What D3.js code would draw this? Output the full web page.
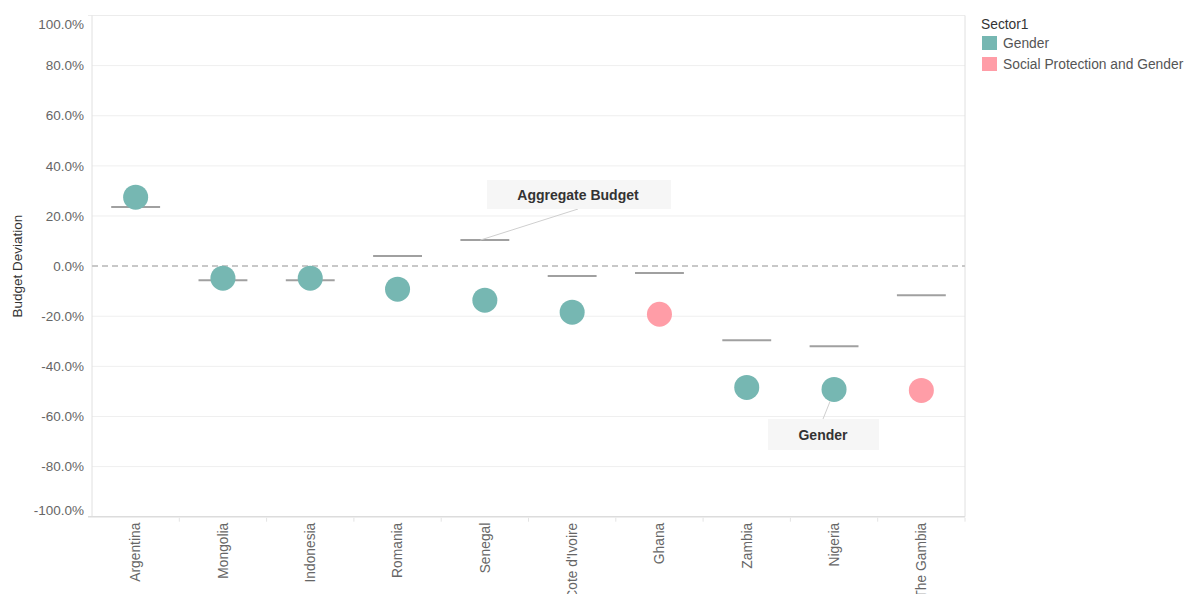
<!DOCTYPE html>
<html>
<head>
<meta charset="utf-8">
<script src="https://cdn.jsdelivr.net/npm/d3@7"></script>
<style>
  body { margin: 0; background: #fff; }
  text { font-family: "Liberation Sans", Arial, sans-serif; }
</style>
</head>
<body>
<div id="chart"></div>
<script>
// countries along the x axis
var countries = ["Argentina", "Mongolia", "Indonesia", "Romania", "Senegal",
                 "Cote d'Ivoire", "Ghana", "Zambia", "Nigeria", "The Gambia"];
// sector deviation (%) - the circles
var sectorDeviation = [27.5, -4.8, -4.8, -9.2, -13.6, -18.4, -19.2, -48.4, -49.2, -49.6];
// which sector each circle belongs to
var sectors = ["Gender", "Gender", "Gender", "Gender", "Gender",
               "Gender", "Social Protection and Gender", "Gender", "Gender", "Social Protection and Gender"];
// aggregate budget deviation (%) - the grey dashes
var aggregateDeviation = [23.6, -5.6, -5.6, 4.0, 10.4, -4.0, -2.8, -29.6, -32.0, -11.6];
var yTicks = [100, 80, 60, 40, 20, 0, -20, -40, -60, -80, -100];
var legendItems = ["Gender", "Social Protection and Gender"];

var W = 1184, H = 594;
var pLeft = 92, pRight = 965, pTop = 15.5, pBottom = 516.7;

var svg = d3.select("#chart").append("svg").attr("width", W).attr("height", H);

var x = d3.scaleBand().domain(countries).range([pLeft, pRight]);
var y = d3.scaleLinear().domain([-100, 100]).range([pBottom, pTop]);
var color = d3.scaleOrdinal().domain(legendItems).range(["#76b7b2", "#ff9da7"]);

// gridlines
svg.append("g").selectAll("line")
    .data(yTicks.filter(function (d) { return d !== 0 && Math.abs(d) !== 100; }))
    .enter().append("line")
    .attr("x1", pLeft).attr("x2", pRight)
    .attr("y1", function (d) { return y(d); }).attr("y2", function (d) { return y(d); })
    .attr("stroke", "#efefef").attr("stroke-width", 1);

// pane border
svg.append("line").attr("x1", pLeft - 4).attr("x2", pRight).attr("y1", pTop).attr("y2", pTop)
    .attr("stroke", "#ececec");
svg.append("line").attr("x1", pRight).attr("x2", pRight).attr("y1", pTop).attr("y2", pBottom)
    .attr("stroke", "#e0e0e0");
svg.append("line").attr("x1", pLeft).attr("x2", pLeft).attr("y1", pTop).attr("y2", pBottom)
    .attr("stroke", "#e0e0e0");
svg.append("line").attr("x1", pLeft - 4).attr("x2", pRight).attr("y1", pBottom).attr("y2", pBottom)
    .attr("stroke", "#dcdcdc").attr("stroke-width", 1.5);

// zero reference line
svg.append("line")
    .attr("x1", pLeft).attr("x2", pRight).attr("y1", y(0)).attr("y2", y(0))
    .attr("stroke", "#c8c8c8").attr("stroke-width", 2).attr("stroke-dasharray", "6,4");

// y axis labels
svg.append("g").selectAll("text")
    .data(yTicks).enter().append("text")
    .attr("x", pLeft - 8)
    .attr("y", function (d) {
        if (d === 100) return y(d) + 9;
        if (d === -100) return y(d) - 6;
        return y(d);
    })
    .attr("dy", "0.35em")
    .attr("text-anchor", "end")
    .attr("font-size", 13.5)
    .attr("fill", "#666")
    .text(function (d) { return d.toFixed(1) + "%"; });

svg.append("text")
    .attr("transform", "translate(22," + y(0) + ") rotate(-90)")
    .attr("text-anchor", "middle")
    .attr("font-size", 13.5)
    .attr("fill", "#333")
    .text("Budget Deviation");

// x ticks between categories
svg.append("g").selectAll("line")
    .data(countries).enter().append("line")
    .attr("x1", function (d) { return x(d) + x.bandwidth(); })
    .attr("x2", function (d) { return x(d) + x.bandwidth(); })
    .attr("y1", pBottom + 1).attr("y2", pBottom + 5)
    .attr("stroke", "#e4e4e4");

// x labels
svg.append("g").selectAll("text")
    .data(countries).enter().append("text")
    .attr("transform", function (d) {
        return "translate(" + (x(d) + x.bandwidth() / 2) + "," + (pBottom + 6) + ") rotate(-90)";
    })
    .attr("dy", "0.35em")
    .attr("text-anchor", "end")
    .attr("font-size", 13.8)
    .attr("fill", "#666")
    .text(function (d) { return d; });

// aggregate budget dashes
svg.append("g").selectAll("line")
    .data(countries).enter().append("line")
    .attr("x1", function (d) { return x(d) + x.bandwidth() * 0.22; })
    .attr("x2", function (d) { return x(d) + x.bandwidth() * 0.78; })
    .attr("y1", function (d, i) { return y(aggregateDeviation[i]); })
    .attr("y2", function (d, i) { return y(aggregateDeviation[i]); })
    .attr("stroke", "#a0a0a0").attr("stroke-width", 2);

// circles
svg.append("g").selectAll("circle")
    .data(countries).enter().append("circle")
    .attr("cx", function (d) { return x(d) + x.bandwidth() / 2; })
    .attr("cy", function (d, i) { return y(sectorDeviation[i]); })
    .attr("r", 12.5)
    .attr("fill", function (d, i) { return color(sectors[i]); });

// annotation: Aggregate Budget (points at Senegal dash)
var sx = x("Senegal") + x.bandwidth() * 0.22 + 20, sy = y(aggregateDeviation[4]);
svg.append("line").attr("x1", sx).attr("y1", sy).attr("x2", 578).attr("y2", 209)
    .attr("stroke", "#cfcfcf");
svg.append("rect").attr("x", 487).attr("y", 180).attr("width", 184).attr("height", 29)
    .attr("fill", "#f6f6f6");
svg.append("text").attr("x", 578).attr("y", 195).attr("dy", "0.35em")
    .attr("text-anchor", "middle").attr("font-size", 14).attr("font-weight", "bold")
    .attr("fill", "#333").text("Aggregate Budget");

// annotation: Gender (points at Nigeria circle)
var nx = x("Nigeria") + x.bandwidth() / 2, ny = y(sectorDeviation[8]);
svg.append("line").attr("x1", nx - 4).attr("y1", ny + 12).attr("x2", 823).attr("y2", 419)
    .attr("stroke", "#cfcfcf");
svg.append("rect").attr("x", 768).attr("y", 419).attr("width", 111).attr("height", 31)
    .attr("fill", "#f6f6f6");
svg.append("text").attr("x", 823).attr("y", 435).attr("dy", "0.35em")
    .attr("text-anchor", "middle").attr("font-size", 14).attr("font-weight", "bold")
    .attr("fill", "#333").text("Gender");

// legend
var lg = svg.append("g").attr("transform", "translate(981,0)");
lg.append("text").attr("x", 0).attr("y", 24).attr("dy", "0.35em")
    .attr("font-size", 13.8).attr("fill", "#333").text("Sector1");
legendItems.forEach(function (d, i) {
    lg.append("rect").attr("x", 1).attr("y", 36 + i * 21).attr("width", 15).attr("height", 14)
        .attr("fill", color(d));
    lg.append("text").attr("x", 22).attr("y", 43 + i * 21).attr("dy", "0.35em")
        .attr("font-size", 13.8).attr("fill", "#555").text(d);
});
</script>
</body>
</html>
